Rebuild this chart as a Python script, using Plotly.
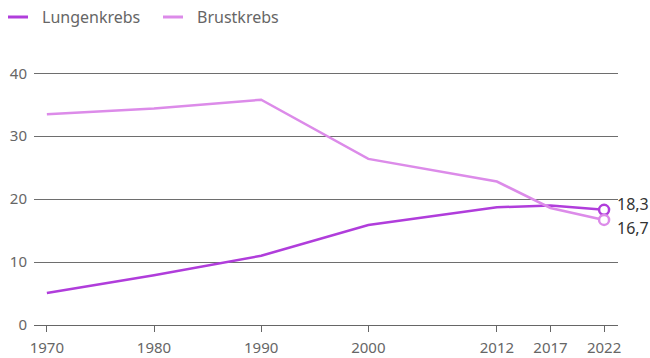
import plotly.graph_objects as go

years = [1970, 1980, 1990, 2000, 2012, 2017, 2022]
lungenkrebs = [5.1, 7.9, 11.0, 15.9, 18.7, 19.0, 18.3]
brustkrebs = [33.5, 34.4, 35.8, 26.4, 22.8, 18.6, 16.7]
series_names = ["Lungenkrebs", "Brustkrebs"]
colors = ["#b03ddb", "#dc8be9"]
end_labels = ["18,3", "16,7"]
y_ticks = [0, 10, 20, 30, 40]

L, R, T, B = 34, 32, 67, 33
W, H = 650, 358
pw, ph = W - L - R, H - T - B

fig = go.Figure()
for name, vals, col in zip(series_names, [lungenkrebs, brustkrebs], colors):
    fig.add_trace(go.Scatter(x=years, y=vals, name=name, mode="lines",
                             line=dict(color=col, width=2.5), showlegend=False))
for vals, col in zip([lungenkrebs, brustkrebs], colors):
    fig.add_trace(go.Scatter(x=[years[-1]], y=[vals[-1]], mode="markers",
                             marker=dict(size=10, color="white", line=dict(color=col, width=2.5)),
                             showlegend=False, hoverinfo="skip", cliponaxis=False))

# end labels
for vals, lab, ys in zip([lungenkrebs, brustkrebs], end_labels, [6, -8]):
    fig.add_annotation(x=years[-1], y=vals[-1], xref="x", yref="y", text=lab,
                       showarrow=False, xanchor="left", yanchor="middle",
                       xshift=11, yshift=ys, font=dict(size=16, color="#333333"))

# manual legend
legend_x = [8, 163]
for name, col, lx in zip(series_names, colors, legend_x):
    x0 = (lx - L) / pw
    x1 = (lx + 20 - L) / pw
    yy = (H - B - 17) / ph
    fig.add_shape(type="line", xref="paper", yref="paper", x0=x0, x1=x1, y0=yy, y1=yy,
                  line=dict(color=col, width=3))
    fig.add_annotation(xref="paper", yref="paper", x=(lx + 32 - L) / pw, y=yy,
                       text=name, showarrow=False, xanchor="left", yanchor="middle",
                       font=dict(size=16, color="#666666"))

fig.update_layout(
    width=W, height=H,
    margin=dict(l=L, r=R, t=T, b=B, autoexpand=False),
    paper_bgcolor="white", plot_bgcolor="white",
    font=dict(family="Noto Sans", size=14, color="#666666"),
    showlegend=False,
)
fig.update_xaxes(range=[1968.8, 2023.3], tickvals=years, ticktext=[str(y) for y in years],
                 showgrid=False, showline=True, linecolor="#666666", linewidth=1,
                 ticks="outside", ticklen=6, tickcolor="#666666", zeroline=False,
                 tickfont=dict(size=15, color="#666666"), ticklabelstandoff=3)
fig.update_yaxes(range=[0, 41], tickvals=y_ticks, showgrid=True, gridcolor="#6e6e6e",
                 gridwidth=1, zeroline=False, showline=False, ticks="",
                 tickfont=dict(size=15, color="#666666"), ticklabelstandoff=6)

fig.write_html("out.html")
